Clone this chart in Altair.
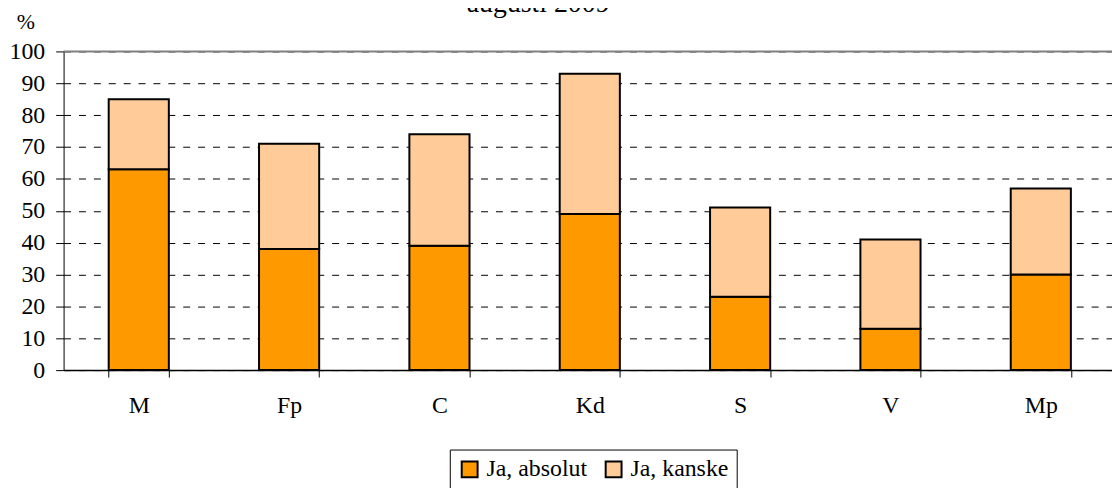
import altair as alt
import pandas as pd

categories = ["M", "Fp", "C", "Kd", "S", "V", "Mp"]
ja_absolut = [63, 38, 39, 49, 23, 13, 30]
ja_kanske = [22, 33, 35, 44, 28, 28, 27]
series = ["Ja, absolut", "Ja, kanske"]
y_ticks = [0, 10, 20, 30, 40, 50, 60, 70, 80, 90, 100]
y_max = [100]
title_text = "augusti 2009"
unit_text = "%"

rows = []
for c, a, k in zip(categories, ja_absolut, ja_kanske):
    rows.append({"cat": c, "serie": series[0], "val": a})
    rows.append({"cat": c, "serie": series[1], "val": k})
df = pd.DataFrame(rows)

FONT = "Liberation Serif"

y_axis = alt.Axis(title=None, values=y_ticks, tickCount=11, grid=True,
                  labelOverlap=False, tickSize=8, labelPadding=11,
                  labelFont=FONT, labelFontSize=24, labelColor="black",
                  domainColor="black", tickColor="black",
                  gridDash=[7, 8], gridColor="#000", gridWidth=1, gridOpacity=1)
y_scale = alt.Scale(domain=[0, 100], nice=False)

bars = alt.Chart(df).mark_bar(stroke="black", strokeWidth=2).encode(
    x=alt.X("cat:N", sort=categories,
            scale=alt.Scale(range=[0, 1060], paddingInner=0.6, paddingOuter=0.3),
            axis=alt.Axis(title=None, labelAngle=0, tickBand="extent", grid=False,
                          tickSize=7, labelPadding=17, labelFont=FONT,
                          labelFontSize=24, labelColor="black",
                          domainColor="black", domainWidth=1.5, tickColor="black")),
    y=alt.Y("sum(val):Q", stack="zero", scale=y_scale, axis=y_axis),
    color=alt.Color("serie:N",
                    scale=alt.Scale(domain=series, range=["#FF9900", "#FFCC99"]),
                    legend=alt.Legend(title=None, orient="none", legendX=389, legendY=401,
                                      direction="horizontal")),
    order=alt.Order("serie:N", sort="ascending"),
)

rule_df = pd.DataFrame({"top": y_max})
top_rule = alt.Chart(rule_df).mark_rule(color="#808080", strokeWidth=2).encode(
    y=alt.Y("top:Q", scale=y_scale, axis=y_axis)
)

one = pd.DataFrame({"a": [0]})

pct = alt.Chart(one).mark_text(font=FONT, fontSize=22, color="black",
                               align="center", baseline="alphabetic").encode(
    x=alt.value(-38), y=alt.value(-23), text=alt.value(unit_text)
)

title = alt.Chart(one).mark_text(font=FONT, fontSize=28, color="black",
                                 align="center", baseline="alphabetic").encode(
    x=alt.value(478), y=alt.value(-40), text=alt.value(title_text)
)

chart = alt.layer(bars, top_rule, pct, title).properties(
    width=1056, height=321,
    autosize="none",
    padding={"left": 56, "top": 42, "right": 0, "bottom": 117},
    background="white",
).configure(
    font=FONT
).configure_view(
    stroke=None
).configure_legend(
    strokeColor="black", padding=8, symbolType="square", symbolSize=256,
    symbolStrokeColor="black", symbolStrokeWidth=2, labelOffset=5,
    columnPadding=14, labelFont=FONT, labelFontSize=24, labelColor="black",
    labelLimit=400
)

chart.save("out.html", embed_options={"renderer": "svg", "actions": False})
